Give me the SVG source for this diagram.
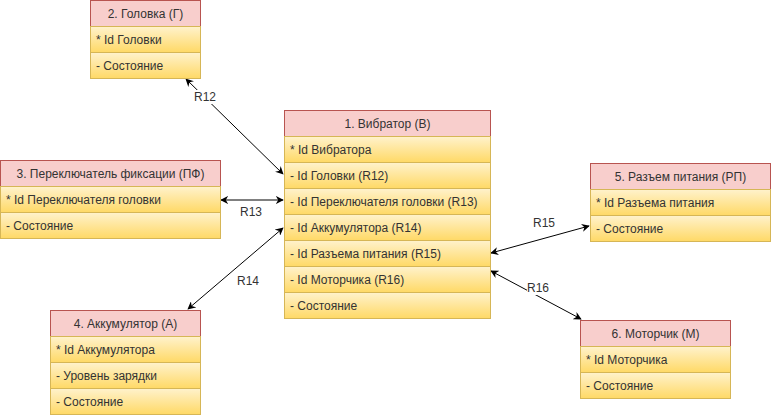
<svg xmlns="http://www.w3.org/2000/svg" width="771" height="418" viewBox="0 0 771 418">
<style>
.h{fill:#f8cecc;stroke:#b85450;stroke-width:1}
.r{fill:url(#g);stroke:#d6b656;stroke-width:1}
text{font-family:"Liberation Sans",Arial,sans-serif;font-size:12px;fill:#333333}
.c{text-anchor:middle}
.e{stroke:#000;stroke-width:1;fill:none;marker-start:url(#a);marker-end:url(#a)}
.lb{fill:#fff}
</style>
<defs>
<linearGradient id="g" x1="0" y1="0" x2="0" y2="1"><stop offset="0" stop-color="#fff2cc"/><stop offset="1" stop-color="#ffd966"/></linearGradient>
<marker id="a" viewBox="0 0 10 10" refX="9" refY="5" markerWidth="8" markerHeight="8" markerUnits="userSpaceOnUse" orient="auto-start-reverse"><path d="M0,0 L10,5 L0,10 L3,5 Z" fill="#000"/></marker>
</defs>
<g id="connectors">
<line class="e" x1="186" y1="79" x2="283" y2="174"/>
<rect class="lb" x="194" y="90" width="22" height="14"/>
<text class="c" x="205" y="101">R12</text>
<line class="e" x1="221" y1="200" x2="283" y2="200"/>
<text class="c" x="251" y="216">R13</text>
<line class="e" x1="283" y1="228" x2="188" y2="309"/>
<text class="c" x="248" y="285">R14</text>
<line class="e" x1="491" y1="253" x2="589" y2="226"/>
<text class="c" x="544" y="227">R15</text>
<line class="e" x1="491" y1="271" x2="581" y2="319"/>
<rect class="lb" x="527" y="281" width="22" height="14"/>
<text class="c" x="538" y="292">R16</text>
</g>
<g id="node1">
<rect class="h" x="284.5" y="110.5" width="206" height="26"/>
<text class="c" x="387.5" y="128">1. Вибратор (В)</text>
<rect class="r" x="284.5" y="136.5" width="206" height="26"/><text x="290" y="154">* Id Вибратора</text>
<rect class="r" x="284.5" y="162.5" width="206" height="26"/><text x="290" y="180">- Id Головки (R12)</text>
<rect class="r" x="284.5" y="188.5" width="206" height="26"/><text x="290" y="206">- Id Переключателя головки (R13)</text>
<rect class="r" x="284.5" y="214.5" width="206" height="26"/><text x="290" y="232">- Id Аккумулятора (R14)</text>
<rect class="r" x="284.5" y="240.5" width="206" height="26"/><text x="290" y="258">- Id Разъема питания (R15)</text>
<rect class="r" x="284.5" y="266.5" width="206" height="26"/><text x="290" y="284">- Id Моторчика (R16)</text>
<rect class="r" x="284.5" y="292.5" width="206" height="26"/><text x="290" y="310">- Состояние</text>
</g>
<g id="node2">
<rect class="h" x="90.5" y="0.5" width="110" height="26"/>
<text class="c" x="145.5" y="18">2. Головка (Г)</text>
<rect class="r" x="90.5" y="26.5" width="110" height="26"/><text x="96" y="44">* Id Головки</text>
<rect class="r" x="90.5" y="52.5" width="110" height="26"/><text x="96" y="70">- Состояние</text>
</g>
<g id="node3">
<rect class="h" x="0.5" y="160.5" width="220" height="26"/>
<text class="c" x="110.5" y="178">3. Переключатель фиксации (ПФ)</text>
<rect class="r" x="0.5" y="186.5" width="220" height="26"/><text x="6" y="204">* Id Переключателя головки</text>
<rect class="r" x="0.5" y="212.5" width="220" height="26"/><text x="6" y="230">- Состояние</text>
</g>
<g id="node4">
<rect class="h" x="50.5" y="310.5" width="150" height="26"/>
<text class="c" x="125.5" y="328">4. Аккумулятор (А)</text>
<rect class="r" x="50.5" y="336.5" width="150" height="26"/><text x="56" y="354">* Id Аккумулятора</text>
<rect class="r" x="50.5" y="362.5" width="150" height="26"/><text x="56" y="380">- Уровень зарядки</text>
<rect class="r" x="50.5" y="388.5" width="150" height="26"/><text x="56" y="406">- Состояние</text>
</g>
<g id="node5">
<rect class="h" x="590.5" y="163.5" width="180" height="26"/>
<text class="c" x="680.5" y="181">5. Разъем питания (РП)</text>
<rect class="r" x="590.5" y="189.5" width="180" height="26"/><text x="596" y="207">* Id Разъема питания</text>
<rect class="r" x="590.5" y="215.5" width="180" height="26"/><text x="596" y="233">- Состояние</text>
</g>
<g id="node6">
<rect class="h" x="580.5" y="320.5" width="150" height="26"/>
<text class="c" x="655.5" y="338">6. Моторчик (М)</text>
<rect class="r" x="580.5" y="346.5" width="150" height="26"/><text x="586" y="364">* Id Моторчика</text>
<rect class="r" x="580.5" y="372.5" width="150" height="26"/><text x="586" y="390">- Состояние</text>
</g>
</svg>
